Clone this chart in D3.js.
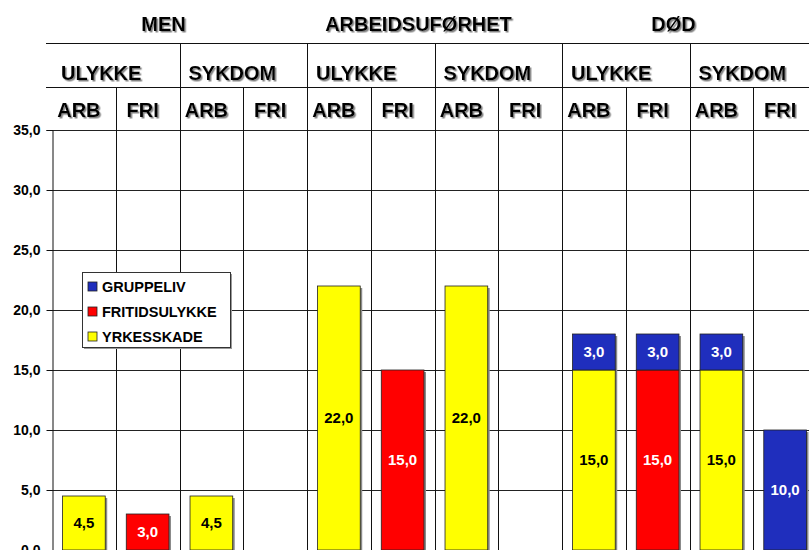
<!DOCTYPE html>
<html lang="no">
<head>
<meta charset="UTF-8">
<title>MEN / ARBEIDSUFØRHET / DØD</title>
<script src="https://d3js.org/d3.v7.min.js"></script>
<style>
  body { margin: 0; background: #fff; }
  text { font-family: "Liberation Sans", Arial, sans-serif; font-weight: bold; }
</style>
</head>
<body>
<svg id="chart"></svg>
<script>
// data
const groups = ["MEN", "ARBEIDSUFØRHET", "DØD"];
const subGroups = ["ULYKKE", "SYKDOM", "ULYKKE", "SYKDOM", "ULYKKE", "SYKDOM"];
const columns = ["ARB", "FRI", "ARB", "FRI", "ARB", "FRI", "ARB", "FRI", "ARB", "FRI", "ARB", "FRI"];
const seriesNames = ["YRKESSKADE", "FRITIDSULYKKE", "GRUPPELIV"];
const yrkesskade    = [4.5, 0, 4.5, 0, 22, 0, 22, 0, 15, 0, 15, 0];
const fritidsulykke = [0, 3, 0, 0, 0, 15, 0, 0, 0, 15, 0, 0];
const gruppeliv     = [0, 0, 0, 0, 0, 0, 0, 0, 3, 3, 3, 10];
const yTicks = [0, 5, 10, 15, 20, 25, 30, 35];

const colors = { YRKESSKADE: "#ffff00", FRITIDSULYKKE: "#ff0000", GRUPPELIV: "#1f2ebd" };
const labelColor = { YRKESSKADE: "#000", FRITIDSULYKKE: "#fff", GRUPPELIV: "#fff" };

const width = 809, height = 550;
const left = 52, right = 817, plotTop = 130, plotBottom = 550;

const svg = d3.select("#chart").attr("width", width).attr("height", height);

const defs = svg.append("defs");
const f = defs.append("filter").attr("id", "shadow")
    .attr("x", "-10%").attr("y", "-20%").attr("width", "130%").attr("height", "150%");
f.append("feDropShadow").attr("dx", 1.5).attr("dy", 1.5).attr("stdDeviation", 0.7)
    .attr("flood-color", "#777").attr("flood-opacity", 0.9);

const idx = d3.range(columns.length);
const x = d3.scaleBand().domain(idx).range([left, right]).paddingInner(0.33).paddingOuter(0.165);
const step = x.step();
const edge = i => left + i * step;   // column boundary i
const y = d3.scaleLinear().domain([0, 35]).range([plotBottom, plotTop]);

const fmt = v => d3.format(".1f")(v).replace(".", ",");

// horizontal grid
svg.append("g").selectAll("line").data(yTicks).join("line")
    .attr("x1", left).attr("x2", width)
    .attr("y1", d => Math.round(y(d)) + 0.5).attr("y2", d => Math.round(y(d)) + 0.5)
    .attr("stroke", "#222").attr("stroke-width", 1);

// vertical grid through plot
svg.append("g").selectAll("line").data(d3.range(1, columns.length)).join("line")
    .attr("x1", i => Math.round(edge(i)) + 0.5).attr("x2", i => Math.round(edge(i)) + 0.5)
    .attr("y1", plotTop).attr("y2", plotBottom)
    .attr("stroke", "#111").attr("stroke-width", 1);

// header lines
const hdr = svg.append("g").attr("stroke", "#111").attr("stroke-width", 1);
[43, 87].forEach(yy => {
  hdr.append("line").attr("x1", 46).attr("x2", width).attr("y1", yy + 0.5).attr("y2", yy + 0.5);
});
d3.range(2, columns.length, 2).forEach(i => {
  hdr.append("line").attr("x1", Math.round(edge(i)) + 0.5).attr("x2", Math.round(edge(i)) + 0.5)
      .attr("y1", 43).attr("y2", plotTop);
});
d3.range(1, columns.length, 2).forEach(i => {
  hdr.append("line").attr("x1", Math.round(edge(i)) + 0.5).attr("x2", Math.round(edge(i)) + 0.5)
      .attr("y1", 87).attr("y2", plotTop);
});

// header text
const ht = svg.append("g").attr("filter", "url(#shadow)").attr("font-size", 20).attr("fill", "#000");
ht.selectAll(".g1").data(groups).join("text").attr("class", "g1")
    .attr("x", (d, i) => edge(i * 4 + 2) - 16).attr("y", 31)
    .attr("text-anchor", "middle").text(d => d);
ht.selectAll(".g2").data(subGroups).join("text").attr("class", "g2")
    .attr("x", (d, i) => edge(i * 2) + 9).attr("y", 80)
    .attr("text-anchor", "start").text(d => d);
ht.selectAll(".g3").data(columns).join("text").attr("class", "g3")
    .attr("x", (d, i) => edge(i) + step / 2 - 5).attr("y", 117)
    .attr("text-anchor", "middle").text(d => d);

// y axis
const yAxis = d3.axisLeft(y).tickValues(yTicks).tickSize(6).tickPadding(6).tickFormat(fmt);
const ga = svg.append("g").attr("transform", `translate(${left + 0.5},0)`).call(yAxis);
ga.select(".domain").attr("stroke", "#111");
ga.selectAll(".tick line").attr("stroke", "#111");
ga.selectAll(".tick text").attr("font-size", 14).attr("fill", "#000")
    .style("font-family", "'Liberation Sans', Arial, sans-serif").style("font-weight", "bold");

// stacked bars
const table = idx.map(i => ({ i, YRKESSKADE: yrkesskade[i], FRITIDSULYKKE: fritidsulykke[i], GRUPPELIV: gruppeliv[i] }));
const stacked = d3.stack().keys(seriesNames)(table);

const segs = [];
stacked.forEach(s => s.forEach(d => {
  if (d[1] - d[0] > 0) segs.push({ key: s.key, i: d.data.i, y0: d[0], y1: d[1] });
}));

// shadows for whole bars
svg.append("g").selectAll("rect").data(idx.filter(i => yrkesskade[i] + fritidsulykke[i] + gruppeliv[i] > 0))
    .join("rect")
    .attr("x", i => x(i) + 2).attr("width", x.bandwidth())
    .attr("y", i => y(yrkesskade[i] + fritidsulykke[i] + gruppeliv[i]) + 2)
    .attr("height", i => y(0) - y(yrkesskade[i] + fritidsulykke[i] + gruppeliv[i]))
    .attr("fill", "#8a8a8a");

svg.append("g").selectAll("rect").data(segs).join("rect")
    .attr("x", d => x(d.i)).attr("width", x.bandwidth())
    .attr("y", d => y(d.y1)).attr("height", d => y(d.y0) - y(d.y1))
    .attr("fill", d => colors[d.key]).attr("stroke", "#222").attr("stroke-width", 0.8);

svg.append("g").selectAll("text").data(segs).join("text")
    .attr("x", d => x(d.i) + x.bandwidth() / 2)
    .attr("y", d => (y(d.y0) + y(d.y1)) / 2)
    .attr("dy", "0.36em").attr("text-anchor", "middle")
    .attr("font-size", 15).attr("fill", d => labelColor[d.key])
    .text(d => fmt(d.y1 - d.y0));

// legend
const lg = svg.append("g").attr("transform", "translate(82,272)");
lg.append("rect").attr("x", 2).attr("y", 2).attr("width", 148).attr("height", 75).attr("fill", "#999");
lg.append("rect").attr("x", 0.5).attr("y", 0.5).attr("width", 148).attr("height", 75)
    .attr("fill", "#fff").attr("stroke", "#333");
const legendOrder = seriesNames.slice().reverse();
const li = lg.selectAll(".item").data(legendOrder).join("g").attr("class", "item")
    .attr("transform", (d, i) => `translate(6,${10 + i * 25})`);
li.append("rect").attr("width", 9).attr("height", 9).attr("fill", d => colors[d])
    .attr("stroke", "#222").attr("stroke-width", 0.8);
li.append("text").attr("x", 14).attr("y", 5).attr("dy", "0.36em")
    .attr("font-size", 14.5).attr("fill", "#000").text(d => d);
</script>
</body>
</html>
